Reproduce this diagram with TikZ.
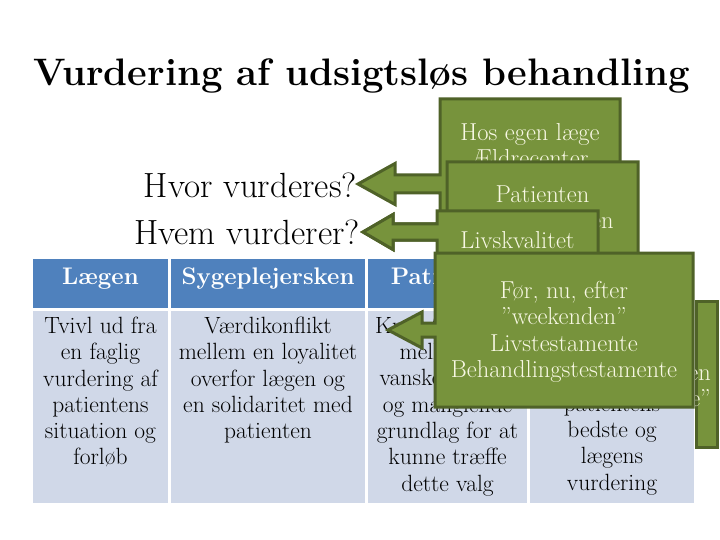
\documentclass[tikz,border=0pt]{standalone}
\usepackage{fontspec}
\definecolor{gfill}{HTML}{77933C}
\definecolor{gline}{HTML}{4F6228}
\definecolor{gtext}{HTML}{F8F8E4}
\definecolor{hblue}{HTML}{4F81BD}
\definecolor{bodyc}{HTML}{D0D8E8}
\newcommand\mycallout[9]{%
  \path[calloutshape] (#1,#2) -- (#3,#2) -- (#3,#4) -- (#1,#4) -- (#1,{#5+#9}) -- (#7,{#5+#9}) -- (#7,{#5+#8}) -- (#6,#5) -- (#7,{#5-#8}) -- (#7,{#5-#9}) -- (#1,{#5-#9}) -- cycle;}
\begin{document}
\begin{tikzpicture}[x=1pt,y=-1pt,
  calloutshape/.style={fill=gfill,draw=gline,line width=3pt,line join=miter},
  calltext/.style={inner sep=0pt,align=center,text=gtext,font=\fontsize{24.5}{26.3}\selectfont},
  headtext/.style={inner sep=0pt,text=white,anchor=base,font=\fontsize{24}{28}\selectfont\bfseries},
  bodytext/.style={inner sep=0pt,align=center,anchor=north,text=black,font=\fontsize{23.5}{26.3}\selectfont},
  question/.style={inner sep=0pt,anchor=east,font=\fontsize{35}{40}\selectfont}]
\useasboundingbox (0,0) rectangle (720,540);
\clip (0,0) rectangle (720,540);
\fill[white] (0,0) rectangle (720,540);
% title
\node[inner sep=0pt,anchor=base,font=\fontsize{38.3}{44}\selectfont\bfseries] (title) at (361.5,86) {Vurdering af udsigtsløs behandling};
% questions
\node[question] (hvor) at (357,185) {Hvor vurderes?};
\node[question] (hvem) at (360,232) {Hvem vurderer?};
% table
\fill[hblue] (33,259) rectangle (168,308);
\fill[hblue] (171,259) rectangle (365,308);
\fill[hblue] (368,259) rectangle (527,308);
\fill[hblue] (530,259) rectangle (694,308);
\fill[bodyc] (33,311) rectangle (168,503);
\fill[bodyc] (171,311) rectangle (365,503);
\fill[bodyc] (368,311) rectangle (527,503);
\fill[bodyc] (530,311) rectangle (694,503);
\node[headtext] (h1) at (100.5,284) {Lægen};
\node[headtext] (h2) at (268,284) {Sygeplejersken};
\node[headtext] (h3) at (447.5,284) {Patienten};
\node[bodytext] (b1) at (100.5,316.7) {Tvivl ud fra\\en faglig\\vurdering af\\patientens\\situation og\\forløb};
\node[bodytext] (b2) at (268,316.7) {Værdikonflikt\\mellem en loyalitet\\overfor lægen og\\en solidaritet med\\patienten};
\node[bodytext] (b3) at (447.5,316.7) {Kravet om valg\\mellem de\\vanskeligheder\\og manglende\\grundlag for at\\kunne træffe\\dette valg};
\node[bodytext] (b4) at (612,396) {patientens\\bedste og\\lægens\\vurdering};
% callout 1
\mycallout{440}{99}{620}{267}{184}{358}{395}{20.5}{9}
\node[calltext,anchor=north] (c1) at (530,123) {Hos egen læge\\Ældrecenter};
% callout 2
\mycallout{447}{162}{638}{302}{232}{363}{393}{17.5}{8}
\node[calltext,anchor=north] (c2) at (542.5,185.3) {Patienten\\Sygeplejersken};
% callout 3
\mycallout{437}{211}{598}{300}{232}{363}{393}{17.5}{8}
\node[calltext,anchor=north] (c3) at (517.5,231) {Livskvalitet};
% callout 5 (behind)
\path[calloutshape] (696,301) rectangle (717,447);
\node[calltext,align=right,anchor=north east] (c5) at (711,363) {lægen\\”bedste”};
% callout 4
\mycallout{435}{253}{693}{407}{330}{388}{422}{18}{7}
\node[calltext,anchor=north] (c4) at (564,281) {Før, nu, efter\\”weekenden”\\Livstestamente\\Behandlingstestamente};
\end{tikzpicture}
\end{document}
